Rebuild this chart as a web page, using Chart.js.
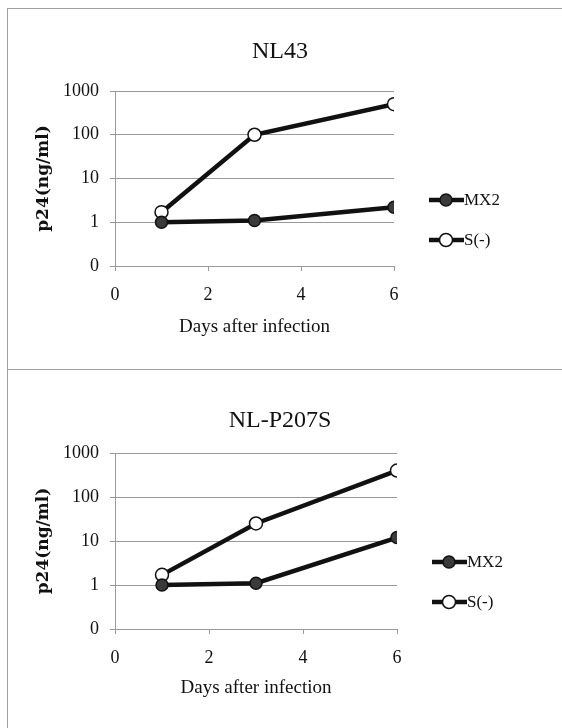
<!DOCTYPE html>
<html>
<head>
<meta charset="utf-8">
<script src="https://cdn.jsdelivr.net/npm/chart.js@4.4.1/dist/chart.umd.min.js"></script>
<style>
  body { margin: 0; background: #fff; width: 562px; height: 728px; overflow: hidden; position: relative; }
  .frame { position: absolute; left: 7px; top: 8px; width: 600px; height: 760px; border: 1px solid #a0a0a0; box-sizing: border-box; }
  .sep { position: absolute; left: 7px; top: 369px; width: 560px; height: 1px; background: #a0a0a0; }
  canvas { position: absolute; left: 0; }
</style>
</head>
<body>
<div class="frame"></div>
<div class="sep"></div>
<canvas id="chart1" style="top:0px"></canvas>
<canvas id="chart2" style="top:369px"></canvas>
<script>
// data
const days = [1, 3, 6];
const nl43Mx2 = [1.0, 1.1, 2.2];
const nl43S = [1.7, 100, 500];
const p207Mx2 = [1.0, 1.1, 12];
const p207S = [1.7, 25, 400];
const yTicks = [0.1, 1, 10, 100, 1000];
const yTickLabels = ["0", "1", "10", "100", "1000"];
const seriesNames = ["MX2", "S(-)"];

const serif = "'Liberation Serif', 'Times New Roman', serif";

// title centred on the whole panel, legend as line + marker + text
const panelDeco = {
  id: "panelDeco",
  afterDraw(chart, args, opts) {
    const c = chart.ctx;
    const area = chart.chartArea;

    c.save();
    c.fillStyle = "#111";
    c.font = "24px " + serif;
    c.textAlign = "center";
    c.textBaseline = "middle";
    c.fillText(opts.text, 280, 52);
    c.restore();

    chart.data.datasets.forEach(function (ds, i) {
      let x0 = area.right + 35;
      let y = area.top + 109 + i * 40;
      c.save();
      c.strokeStyle = ds.borderColor;
      c.lineWidth = ds.borderWidth;
      c.beginPath();
      c.moveTo(x0, y);
      c.lineTo(x0 + 35, y);
      c.stroke();
      c.beginPath();
      c.arc(x0 + 17, y, ds.pointRadius, 0, Math.PI * 2);
      c.fillStyle = ds.pointBackgroundColor;
      c.fill();
      c.lineWidth = ds.pointBorderWidth;
      c.strokeStyle = ds.pointBorderColor;
      c.stroke();
      c.fillStyle = "#111";
      c.font = "17px " + serif;
      c.textBaseline = "middle";
      c.fillText(ds.label, x0 + 35, y + 1);
      c.restore();
    });
  }
};

function grafica(id, titulo, mx2, sneg, lay) {

  const canvas = document.getElementById(id);
  canvas.width = 562;
  canvas.height = lay.h;
  canvas.style.width = "562px";
  canvas.style.height = lay.h + "px";

  new Chart(canvas, {
    type: "line",
    data: {
      datasets: [{
        label: seriesNames[0],
        data: days.map((d, i) => ({ x: d, y: mx2[i] })),
        borderColor: "#111",
        borderWidth: 4.5,
        pointRadius: 6,
        pointBackgroundColor: "#3a3a3a",
        pointBorderColor: "#111",
        pointBorderWidth: 1.5,
        tension: 0
      }, {
        label: seriesNames[1],
        data: days.map((d, i) => ({ x: d, y: sneg[i] })),
        borderColor: "#111",
        borderWidth: 4.5,
        pointRadius: 6.5,
        pointBackgroundColor: "#fff",
        pointBorderColor: "#111",
        pointBorderWidth: 1.5,
        tension: 0
      }]
    },
    options: {
      responsive: false,
      animation: false,
      layout: { padding: { left: 28, right: lay.right, top: lay.top, bottom: 20 } },
      plugins: {
        legend: { display: false },
        tooltip: { enabled: false },
        title: { display: false },
        panelDeco: { text: titulo }
      },
      scales: {
        x: {
          type: "linear",
          min: 0,
          max: 6,
          ticks: { stepSize: 2, color: "#111", padding: 13, font: { family: serif, size: 18 } },
          grid: { drawOnChartArea: false, drawTicks: true, tickLength: 5, color: "#999" },
          border: { color: "#999" },
          title: {
            display: true,
            text: "Days after infection",
            color: "#111",
            font: { family: serif, size: 19 },
            padding: { top: 4, bottom: lay.xTitleBottom }
          },
          afterFit: function (s) { s.height = lay.xHeight; }
        },
        y: {
          type: "logarithmic",
          min: 0.1,
          max: 1000,
          afterBuildTicks: function (s) { s.ticks = yTicks.map(v => ({ value: v })); },
          ticks: {
            color: "#111",
            padding: 11,
            font: { family: serif, size: 18 },
            callback: function (v) { return yTickLabels[yTicks.indexOf(v)]; }
          },
          grid: { color: "#999", lineWidth: 1, tickLength: 5 },
          border: { color: "#999" },
          title: {
            display: true,
            text: "p24(ng/ml)",
            color: "#111",
            font: { family: "'DejaVu Serif', serif", size: 17, weight: "bold" },
            padding: { top: 5, bottom: 4 }
          },
          afterFit: function (s) { s.width = 87; }
        }
      }
    },
    plugins: [panelDeco]
  });
}

grafica("chart1", "NL43", nl43Mx2, nl43S, { h: 369, top: 91, right: 168, xHeight: 83, xTitleBottom: 11 });
grafica("chart2", "NL-P207S", p207Mx2, p207S, { h: 359, top: 84, right: 165, xHeight: 79, xTitleBottom: 9 });
</script>
</body>
</html>
